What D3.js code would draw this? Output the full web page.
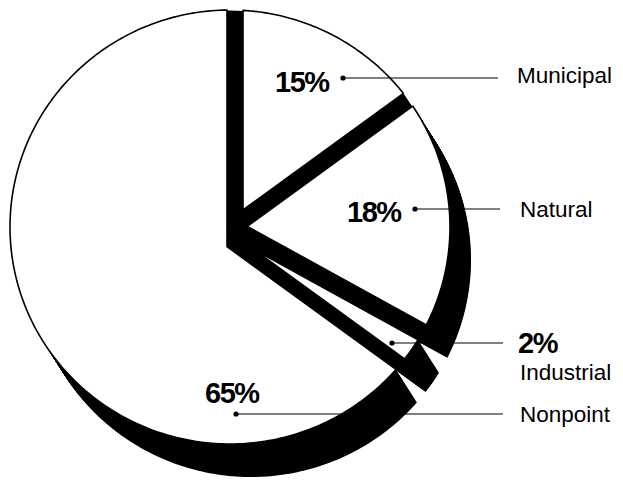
<!DOCTYPE html>
<html><head><meta charset="utf-8">
<script src="https://cdn.jsdelivr.net/npm/d3@7"></script>
<style>html,body{margin:0;padding:0;background:#fff;}svg{display:block;}</style>
</head><body>
<svg id="chart" width="623" height="485"></svg>
<script>
// ---------------- data ----------------
const categories = ["Municipal", "Natural", "Industrial", "Nonpoint"];
const values = [15, 18, 2, 65];
const percentLabels = ["15%", "18%", "2%", "65%"];

// ---------------- style / layout ----------------
const W = 623, H = 485;
const E = {x: 230, y: 227}, RX = 220, RY = 217;   // rim ellipse of the top face
const O = {x: 233.3, y: 229};                    // pie hub
const gapBefore = [-6.3, -9.7, -9, 4.5];         // offset of the edge ending at boundary k
const gapAfter  = [9.7, 6.1, 8, 18];             // offset of the edge starting at boundary k
const DEPTH = {x: 21, y: 33};
const labelLayout = [
  {pct: [275, 92], dot: [343, 78], lineEnd: 498, name: [517, 83]},
  {pct: [347, 222], dot: [415, 209], lineEnd: 500, name: [520, 217]},
  {pct: [518, 353], dot: [392, 343], lineEnd: 503, name: [520, 380]},
  {pct: [205, 403], dot: [236, 414], lineEnd: 503, name: [520, 422]}
];

const svg = d3.select("#chart");
svg.append("rect").attr("width", W).attr("height", H).attr("fill", "#fff");

const arcs = d3.pie().sort(null).value(d => d)(values);
const nb = arcs.length;

const dirOf = a => ({x: Math.sin(a), y: -Math.cos(a)});
const nrmOf = a => ({x: Math.cos(a), y: Math.sin(a)});

function intersectLines(a1, c1, a2, c2) {
  const n1 = nrmOf(a1), n2 = nrmOf(a2);
  const det = n1.x * n2.y - n1.y * n2.x;
  const qx = (c1 * n2.y - n1.y * c2) / det;
  const qy = (n1.x * c2 - c1 * n2.x) / det;
  return {x: O.x + qx, y: O.y + qy};
}
function rimHit(A, a) {
  const u = dirOf(a);
  const dx = A.x - E.x, dy = A.y - E.y;
  const qa = (u.x / RX) ** 2 + (u.y / RY) ** 2;
  const qb = 2 * (dx * u.x / (RX * RX) + dy * u.y / (RY * RY));
  const qc = (dx / RX) ** 2 + (dy / RY) ** 2 - 1;
  const t = (-qb + Math.sqrt(qb * qb - 4 * qa * qc)) / (2 * qa);
  return {x: A.x + t * u.x, y: A.y + t * u.y};
}
const phiOf = p => {
  let f = Math.atan2((p.x - E.x) / RX, -(p.y - E.y) / RY);
  if (f < 0) f += 2 * Math.PI;
  return f;
};
const rimAt = f => ({x: E.x + RX * Math.sin(f), y: E.y - RY * Math.cos(f)});

// top-face polygon for each slice
const faces = arcs.map((d, i) => {
  const a0 = d.startAngle, a1 = d.endAngle;
  const c0 = gapAfter[i], c1 = gapBefore[(i + 1) % nb];
  const apex = intersectLines(a0, c0, a1, c1);
  const p0 = rimHit(apex, a0), p1 = rimHit(apex, a1);
  let f0 = phiOf(p0), f1 = phiOf(p1);
  if (i === 0 && f0 > Math.PI) f0 -= 2 * Math.PI;
  if (f1 <= f0) f1 += 2 * Math.PI;
  const pts = [[apex.x, apex.y], [p0.x, p0.y]];
  const steps = Math.max(2, Math.ceil((f1 - f0) / (Math.PI / 180)));
  for (let s = 1; s < steps; s++) {
    const p = rimAt(f0 + (f1 - f0) * s / steps);
    pts.push([p.x, p.y]);
  }
  pts.push([p1.x, p1.y]);
  return {data: d, pts};
});
const line = d3.line();

// extruded sides (shadow)
const side = svg.append("g").attr("fill", "#000");
const N = 48;
faces.forEach(f => {
  for (let s = 0; s <= N; s++) {
    const t = s / N;
    side.append("path")
      .attr("d", line(f.pts) + "Z")
      .attr("transform", `translate(${DEPTH.x * t},${DEPTH.y * t})`);
  }
});

// dark floor showing between the slices
svg.append("ellipse").attr("cx", E.x).attr("cy", E.y).attr("rx", RX - 0.5).attr("ry", RY - 0.5)
  .attr("fill", "#000");

// top faces
svg.append("g").selectAll("path").data(faces).join("path")
  .attr("d", f => line(f.pts) + "Z")
  .attr("fill", "#fff").attr("stroke", "#000").attr("stroke-width", 1.6)
  .attr("stroke-linejoin", "round");

// leader lines and labels
const lab = svg.append("g");
labelLayout.forEach((L, i) => {
  lab.append("line").attr("x1", L.dot[0]).attr("y1", L.dot[1])
    .attr("x2", L.lineEnd).attr("y2", L.dot[1])
    .attr("stroke", "#000").attr("stroke-width", 1.2);
  lab.append("circle").attr("cx", L.dot[0]).attr("cy", L.dot[1]).attr("r", 2.6).attr("fill", "#000");
  lab.append("text").attr("x", L.pct[0]).attr("y", L.pct[1])
    .attr("font-family", "'Liberation Sans', Arial, Helvetica, sans-serif")
    .attr("font-weight", "bold").attr("font-size", 29).attr("letter-spacing", -1.5)
    .attr("fill", "#000").text(percentLabels[i]);
  lab.append("text").attr("x", L.name[0]).attr("y", L.name[1])
    .attr("font-family", "'Liberation Sans', Arial, Helvetica, sans-serif")
    .attr("font-size", 22.5).attr("fill", "#000").text(categories[i]);
});
</script>
</body></html>
